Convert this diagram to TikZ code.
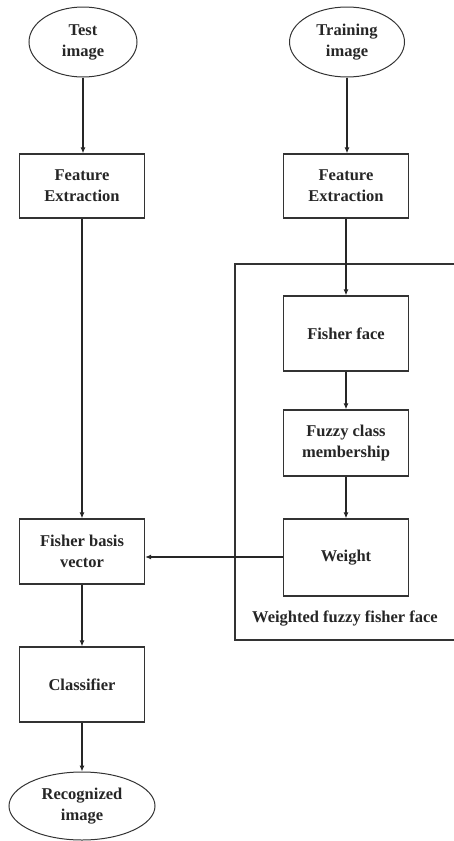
\documentclass[tikz,border=0pt]{standalone}
\usepackage{fontspec}
\setmainfont{Liberation Serif}
\usetikzlibrary{shapes.geometric,arrows.meta}
\begin{document}
\begin{tikzpicture}[x=1pt,y=-1pt,
  every node/.style={font=\fontsize{16.5}{21}\selectfont\bfseries, align=center, text=black!85},
  boxnode/.style={draw=black!80, line width=1.3pt, rectangle, minimum width=125pt, inner sep=0pt},
  ovalnode/.style={draw=black!80, line width=1pt, ellipse, inner sep=0pt},
  link/.style={draw=black!85, line width=1.1pt, -{Latex[length=6pt,width=5pt]}}]
\useasboundingbox (0,0) rectangle (454,841);
% container
\coordinate (cTR) at (454,264);
\coordinate (cBR) at (454,640);
\draw[draw=black!80, line width=1.3pt] (cTR) -- (235,264) -- (235,640) -- (cBR);
% nodes
\node[ovalnode, minimum width=108pt, minimum height=70pt] (test) at (83,42) {Test\\image};
\node[ovalnode, minimum width=115pt, minimum height=70pt] (train) at (347,42) {Training\\image};
\node[boxnode, minimum height=64pt] (fe1) at (82,186) {Feature\\Extraction};
\node[boxnode, minimum height=64pt] (fe2) at (346,186) {Feature\\Extraction};
\node[boxnode, minimum height=75pt] (ff) at (346,333.5) {Fisher face};
\node[boxnode, minimum height=66pt] (fz) at (346,443) {Fuzzy class\\membership};
\node[boxnode, minimum height=77pt] (w) at (346,557.5) {Weight};
\node[boxnode, minimum height=65pt] (fb) at (82,551.5) {Fisher basis\\vector};
\node[boxnode, minimum height=75pt] (cl) at (82,684.5) {Classifier};
\node[ovalnode, minimum width=146pt, minimum height=68pt] (rec) at (82,806) {Recognized\\image};
\node (lbl) at (345,619) {Weighted fuzzy fisher face};
% connectors
\draw[link] (test.south) -- (test.south |- fe1.north);
\draw[link] (train.south) -- (train.south |- fe2.north);
\draw[link] (fe2.south) -- (ff.north);
\draw[link] (ff.south) -- (fz.north);
\draw[link] (fz.south) -- (w.north);
\draw[link] (fe1.south) -- (fb.north);
\draw[link] (w.west |- 0,557) -- (fb.east |- 0,557);
\draw[link] (fb.south) -- (cl.north);
\draw[link] (cl.south) -- (rec.north);
\end{tikzpicture}
\end{document}
